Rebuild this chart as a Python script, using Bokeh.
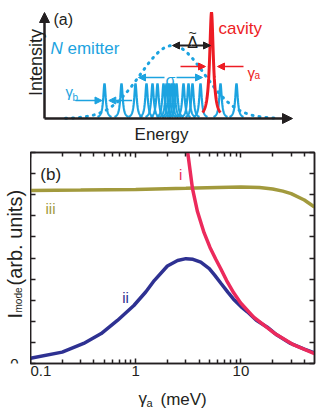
import math
import numpy as np
from bokeh.plotting import figure
from bokeh.layouts import column, row
from bokeh.models import (Range1d, Label, Arrow, NormalHead, FixedTicker,
                          LinearAxis, LogAxis)
from bokeh.embed import file_html
from bokeh.resources import INLINE

FONT = "Liberation Sans"
DARK = "#231f20"
CYAN = "#1ca3e0"
RED = "#ed1c24"
OLIVE = "#a29a3d"
NAVY = "#2e3192"
CRIMSON = "#ec2a5c"

# ---------------- panel (a): schematic (energy / intensity in arbitrary units)
emitter_energies = [60, 77, 91, 102, 108, 113, 119, 122, 124.5, 127, 129.5,
                    132, 139, 144, 148, 156, 176, 192]
emitter_height = 35
emitter_hwhm = 1.5
ensemble_center = 128
ensemble_amp = 73
ensemble_sigma = 32
ensemble_range = [21, 234]
cavity_energy = 167
cavity_height = 106
cavity_hwhm = 2.2
energy_axis_len = 248
intensity_axis_len = 106

# ---------------- panel (b): I_mode vs gamma_a
gamma_i = [3.05, 3.12, 3.46, 3.86, 4.46, 5.08, 5.75, 6.41, 7.31, 8.53, 9.94,
           13.2, 20.6, 31.8, 50]
I_i = [10.3, 10.0, 8.3, 7.2, 6.2, 5.5, 4.95, 4.5, 3.93, 3.35, 2.87,
       2.2, 1.45, 0.88, 0.47]

gamma_ii = [0.1, 0.2, 0.32, 0.47, 0.67, 0.96, 1.25, 1.5, 2.0, 2.5, 3.0, 3.5,
            4.15, 5.0, 5.6, 6.5, 7.5, 8.5, 10, 11.5, 14, 17.8, 22, 29.6, 40, 50]
I_ii = [0.25, 0.54, 0.95, 1.42, 2.04, 2.75, 3.4, 3.93, 4.62, 4.88, 4.97, 4.94,
        4.8, 4.5, 4.2, 3.78, 3.38, 3.05, 2.7, 2.45, 2.05, 1.72, 1.35, 0.95, 0.68, 0.5]

gamma_iii = [0.1, 0.3, 1, 3, 6, 10, 15, 20, 25, 30, 40, 50]
I_iii = [8.2, 8.22, 8.25, 8.3, 8.34, 8.36, 8.34, 8.27, 8.17, 8.05, 7.75, 7.42]

x_major = [0.1, 1, 10]
x_minor = [0.2, 0.3, 0.4, 0.5, 0.6, 0.7, 0.8, 0.9,
           2, 3, 4, 5, 6, 7, 8, 9, 20, 30, 40]
y_ticks = [0, 1, 2, 3, 4, 5, 6, 7, 8, 9, 10]


def lab(p, text, x, y, size, color, units="data", angle=0.0, align="left",
        baseline="alphabetic", style="normal"):
    p.add_layout(Label(x=x, y=y, x_units=units, y_units=units, text=text,
                       text_font=FONT, text_font_size=f"{size}px",
                       text_color=color, angle=angle, text_align=align,
                       text_baseline=baseline, text_font_style=style))


def arrow(p, x0, y0, x1, y1, color, size=7, lw=1.5):
    p.add_layout(Arrow(x_start=x0, y_start=y0, x_end=x1, y_end=y1,
                       line_color=color, line_width=lw,
                       end=NormalHead(size=size, fill_color=color,
                                      line_color=color, line_width=1)))


def style_axis(ax, labels=True):
    ax.axis_line_color = DARK
    ax.axis_line_width = 1.5
    ax.major_tick_line_color = DARK
    ax.major_tick_line_width = 1.5
    ax.minor_tick_line_color = DARK
    ax.minor_tick_line_width = 1.5
    ax.major_tick_in = 5
    ax.major_tick_out = 0
    ax.minor_tick_in = 4
    ax.minor_tick_out = 0
    ax.major_label_text_font = FONT
    ax.major_label_text_font_size = "15px" if labels else "1px"
    ax.major_label_text_color = DARK
    if not labels:
        ax.major_label_standoff = 0


def blank(width, height, xr, yr):
    f = figure(width=width, height=height, x_range=Range1d(*xr),
               y_range=Range1d(*yr), output_backend="svg",
               toolbar_location=None, min_border=0, x_axis_location=None,
               y_axis_location=None, outline_line_color=None)
    f.xgrid.visible = False
    f.ygrid.visible = False
    return f


# ================= panel (a)  (canvas 0..144 px high)
pa = blank(317, 144, (-44, 273), (-26, 118))

E = np.linspace(ensemble_range[0], ensemble_range[1], 300)
G = ensemble_amp * np.exp(-(E - ensemble_center) ** 2 / (2 * ensemble_sigma ** 2))
pa.line(E, G, line_color=CYAN, line_width=3, line_dash="1 6", line_cap="round")

xs, ys = [], []
for e0 in emitter_energies:
    ee = np.linspace(e0 - 7, e0 + 7, 71)
    xs.append(ee)
    ys.append(emitter_height / (1 + ((ee - e0) / emitter_hwhm) ** 2))
pa.multi_line(xs, ys, line_color=CYAN, line_width=2.2)

ec = np.linspace(cavity_energy - 9, cavity_energy + 9, 121)
pa.line(ec, cavity_height / (1 + ((ec - cavity_energy) / cavity_hwhm) ** 2),
        line_color=RED, line_width=3)

arrow(pa, 0, 0, 0, intensity_axis_len, DARK, size=10, lw=2.5)
arrow(pa, 0, 0, energy_axis_len, 0, DARK, size=10, lw=2.5)

arrow(pa, ensemble_center + 19, 73, ensemble_center, 73, DARK, size=7, lw=2)
arrow(pa, ensemble_center + 19, 73, cavity_energy - 1, 73, DARK, size=7, lw=2)
arrow(pa, 136, 52, 161, 52, RED, size=7, lw=1.5)
arrow(pa, 199, 52, 173, 52, RED, size=7, lw=1.5)
arrow(pa, 31, 18, 57.5, 18, CYAN, size=7, lw=1.5)
arrow(pa, 87.7, 18, 64.3, 18, CYAN, size=7, lw=1.5)
arrow(pa, 120, 41, 94, 41, CYAN, size=7, lw=1.5)
arrow(pa, 132, 41, 158, 41, CYAN, size=7, lw=1.5)

lab(pa, "(a)", 9, 99, 16, DARK)
lab(pa, "Intensity", -9, 56, 18, DARK, angle=math.pi / 2, align="center",
    baseline="middle")
lab(pa, "Energy", 117, -16, 17, DARK, align="center")
lab(pa, "N", 6, 70, 17, CYAN, style="italic")
lab(pa, "emitter", 23, 70, 17, CYAN)
lab(pa, "cavity", 174, 90, 17, RED)
lab(pa, "\u0394", 148, 76, 16, DARK, align="center")
lab(pa, "~", 148, 85.5, 14, DARK, align="center")
lab(pa, "\u03c3", 126, 38, 16, CYAN, align="center")
lab(pa, "\u03b3", 203, 46, 15, RED)
lab(pa, "a", 210, 43, 10, RED)
lab(pa, "\u03b3", 21, 27, 15, CYAN)
lab(pa, "b", 28, 21, 10, CYAN)

# ================= panel (b)  (canvas 144..382 px, frame 152..363)
pb = figure(width=287, height=238, x_axis_type="log",
            x_range=Range1d(0.1, 50), y_range=Range1d(0, 10),
            output_backend="svg", toolbar_location=None,
            min_border_left=0, min_border_right=3, min_border_top=8,
            min_border_bottom=19)
pb.xgrid.visible = False
pb.ygrid.visible = False
pb.outline_line_color = DARK
pb.outline_line_width = 1.5

xt = FixedTicker(ticks=x_major, minor_ticks=x_minor)
yt = FixedTicker(ticks=y_ticks)

xa = pb.xaxis[0]
xa.ticker = xt
xa.major_label_overrides = {0.1: "0.1", 1: "1", 10: "10"}
style_axis(xa)
xa.major_label_standoff = 2

ya = pb.yaxis[0]
ya.ticker = yt
style_axis(ya, labels=False)
ya.major_label_overrides = {t: "" for t in y_ticks}
ya.minor_tick_line_color = None

top = LogAxis(ticker=xt)
style_axis(top, labels=False)
top.major_label_overrides = {t: "" for t in x_major}
right = LinearAxis(ticker=yt)
style_axis(right, labels=False)
right.major_label_overrides = {t: "" for t in y_ticks}
right.minor_tick_line_color = None
pb.add_layout(top, "above")
pb.add_layout(right, "right")

pb.line(gamma_iii, I_iii, line_color=OLIVE, line_width=3.5)
pb.line(gamma_ii, I_ii, line_color=NAVY, line_width=3.5)
pb.line(gamma_i, I_i, line_color=CRIMSON, line_width=3.5)

lab(pb, "(b)", 0.124, 8.96, 17, DARK)
lab(pb, "i", 2.67, 8.96, 15, CRIMSON, align="center")
lab(pb, "ii", 0.80, 3.13, 15, NAVY, align="center")
lab(pb, "iii", 0.155, 7.35, 15, OLIVE, align="center")

# ================= left strip: y-axis title and "0"
# (its frame is aligned with panel (b)'s frame, page rows 152..363)
ys_fig = blank(30, 238, (0, 30), (363, 152))
lab(ys_fig, "0", 18, 363, 15, DARK, align="right")
lab(ys_fig, "I", 14, 318, 20, DARK, angle=math.pi / 2)
lab(ys_fig, "mode", 18, 312, 10, DARK, angle=math.pi / 2)
lab(ys_fig, "(arb. units)", 14, 285, 20, DARK, angle=math.pi / 2)

# ================= bottom strip: x-axis title (pixel coordinates)
xs_fig = blank(317, 26, (0, 317), (408, 382))
lab(xs_fig, "\u03b3", 138, 398, 17, DARK)
lab(xs_fig, "a", 146, 402.5, 11, DARK)
lab(xs_fig, "(meV)", 160, 399, 17, DARK)

layout = column(pa, row(ys_fig, pb, spacing=0), xs_fig, spacing=0)
with open("out.html", "w") as f:
    f.write(file_html(layout, INLINE))
